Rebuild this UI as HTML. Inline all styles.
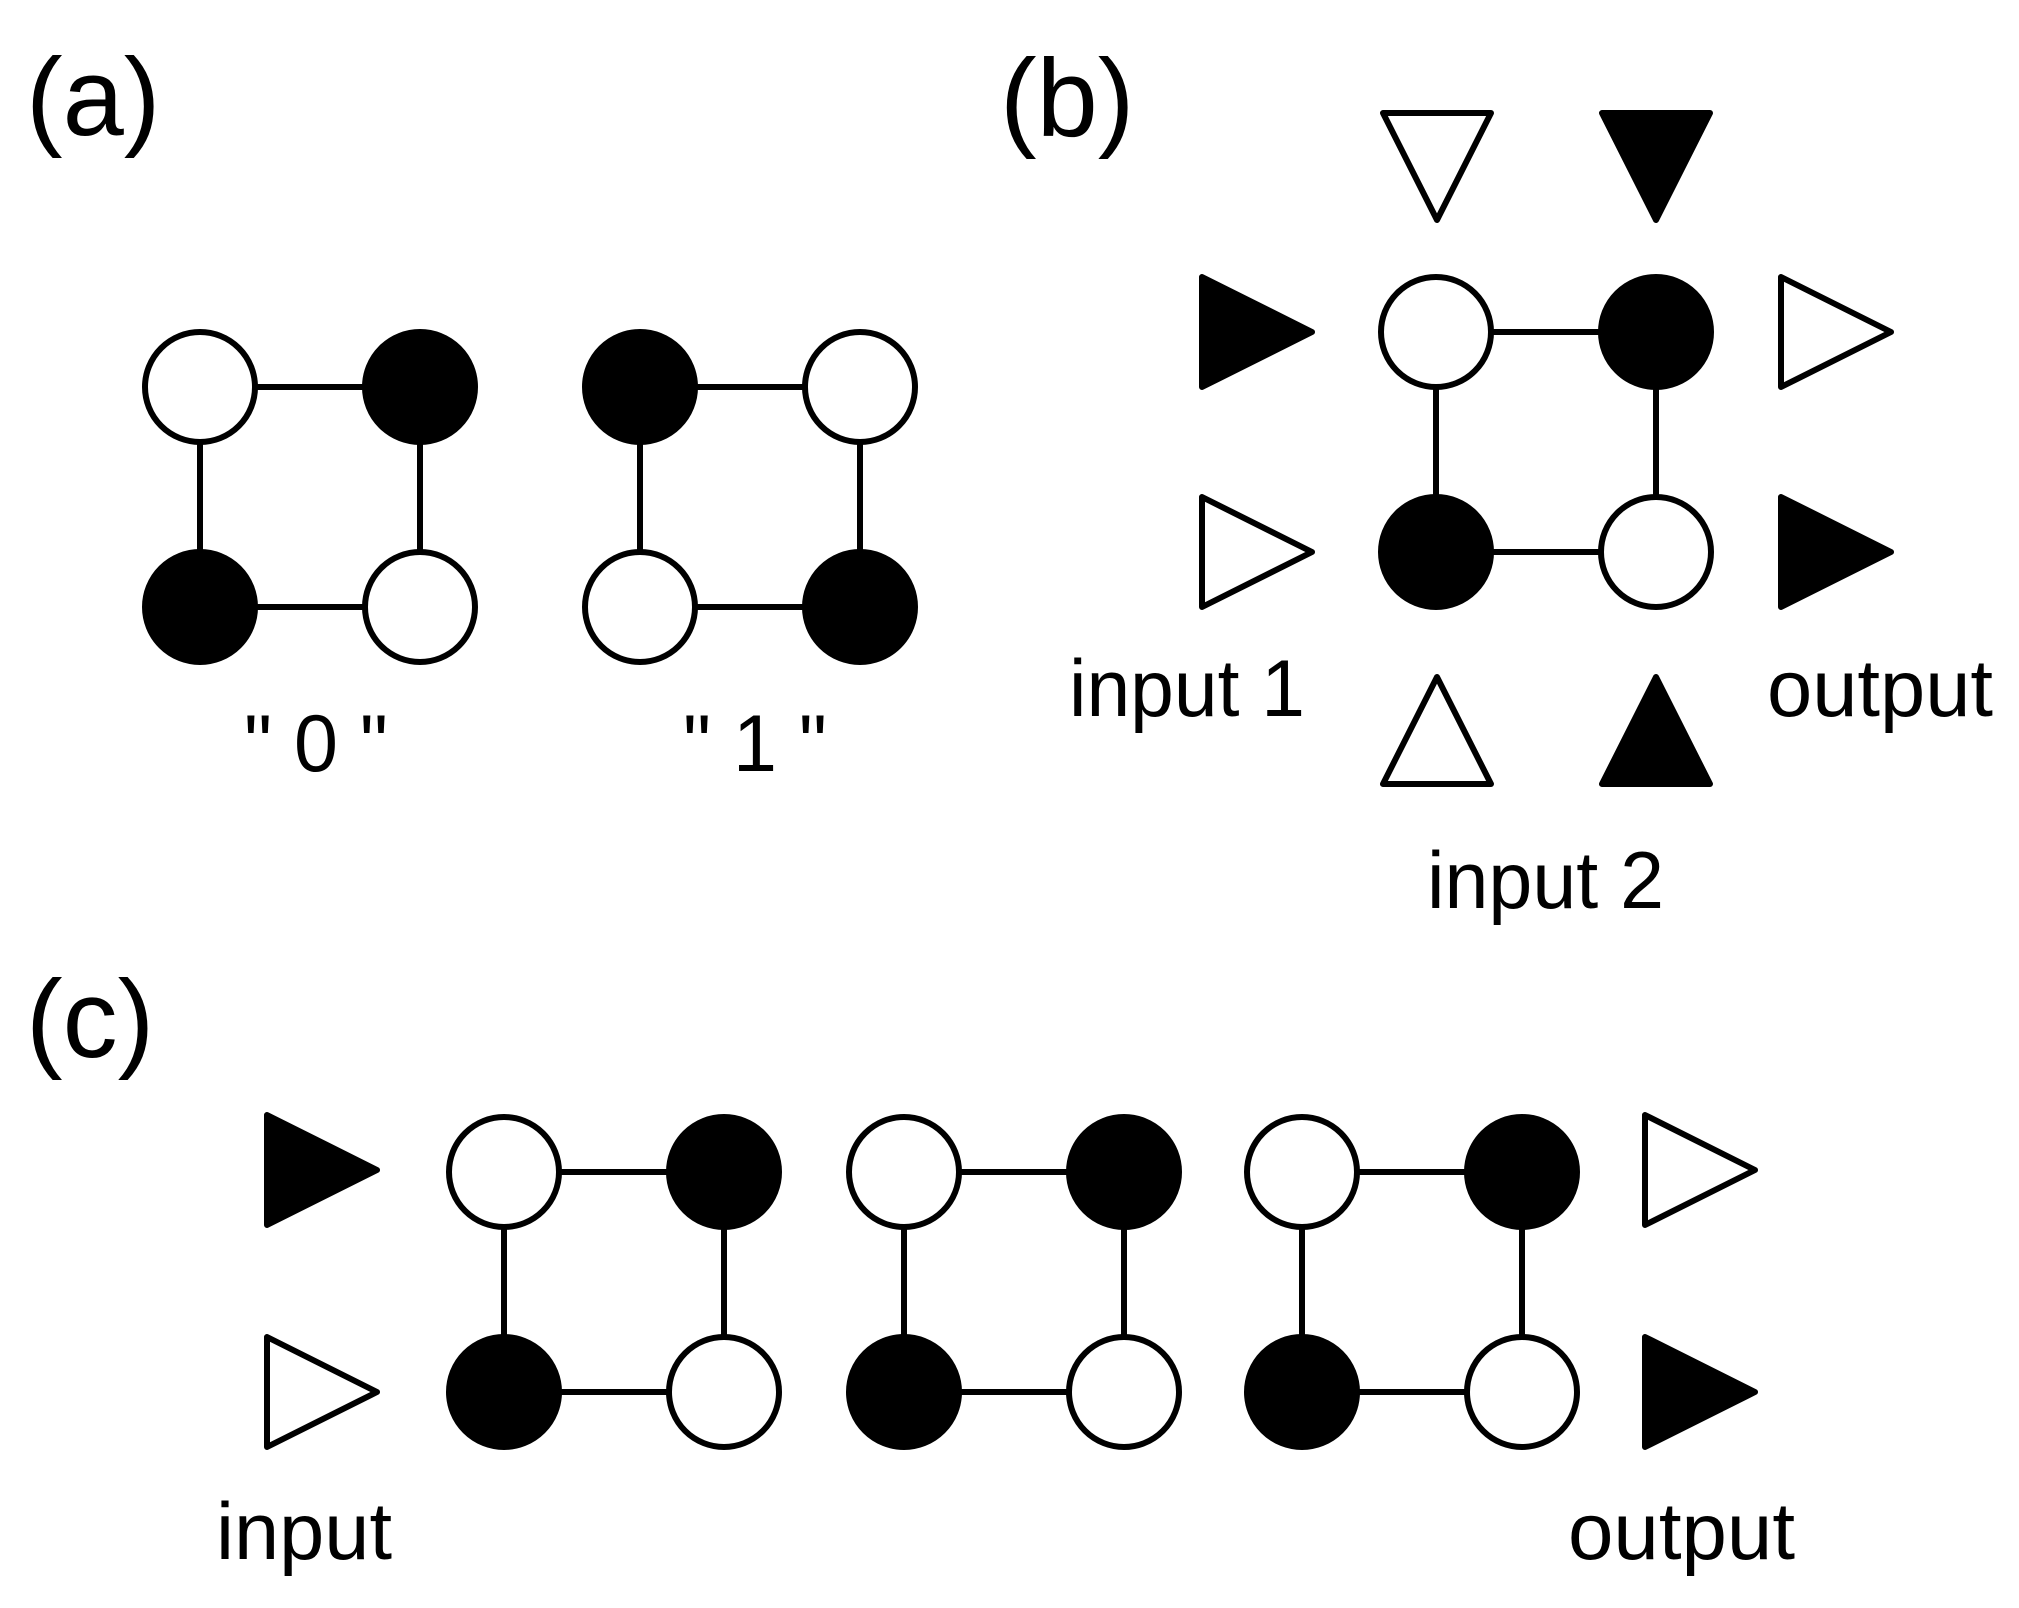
<!DOCTYPE html>
<html><head><meta charset="utf-8"><style>
html,body{margin:0;padding:0;background:#fff;}
svg{display:block;}
text{font-family:"Liberation Sans",Arial,sans-serif;fill:#000;}
</style></head><body>
<svg width="2019" height="1608" viewBox="0 0 2019 1608" xmlns="http://www.w3.org/2000/svg">
<g stroke="#000" stroke-width="6" stroke-linejoin="round">
<!-- (a) block 0 -->
<line x1="200" y1="387" x2="420" y2="387"/><line x1="200" y1="607" x2="420" y2="607"/>
<line x1="200" y1="387" x2="200" y2="607"/><line x1="420" y1="387" x2="420" y2="607"/>
<circle cx="200" cy="387" r="55" fill="#fff"/><circle cx="420" cy="387" r="55" fill="#000"/>
<circle cx="200" cy="607" r="55" fill="#000"/><circle cx="420" cy="607" r="55" fill="#fff"/>
<!-- (a) block 1 -->
<line x1="640" y1="387" x2="860" y2="387"/><line x1="640" y1="607" x2="860" y2="607"/>
<line x1="640" y1="387" x2="640" y2="607"/><line x1="860" y1="387" x2="860" y2="607"/>
<circle cx="640" cy="387" r="55" fill="#000"/><circle cx="860" cy="387" r="55" fill="#fff"/>
<circle cx="640" cy="607" r="55" fill="#fff"/><circle cx="860" cy="607" r="55" fill="#000"/>
<!-- (b) -->
<line x1="1436" y1="332" x2="1656" y2="332"/><line x1="1436" y1="552" x2="1656" y2="552"/>
<line x1="1436" y1="332" x2="1436" y2="552"/><line x1="1656" y1="332" x2="1656" y2="552"/>
<circle cx="1436" cy="332" r="55" fill="#fff"/><circle cx="1656" cy="332" r="55" fill="#000"/>
<circle cx="1436" cy="552" r="55" fill="#000"/><circle cx="1656" cy="552" r="55" fill="#fff"/>
<polygon points="1202,277 1202,387 1312,332" fill="#000"/>
<polygon points="1202,497 1202,607 1312,552" fill="#fff"/>
<polygon points="1781,277 1781,387 1891,332" fill="#fff"/>
<polygon points="1781,497 1781,607 1891,552" fill="#000"/>
<polygon points="1383,113 1491,113 1437,220" fill="#fff"/>
<polygon points="1602,113 1710,113 1656,220" fill="#000"/>
<polygon points="1383,784 1491,784 1437,677" fill="#fff"/>
<polygon points="1602,784 1710,784 1656,677" fill="#000"/>
<!-- (c) -->
<g>
<line x1="504" y1="1172" x2="724" y2="1172"/><line x1="504" y1="1392" x2="724" y2="1392"/>
<line x1="504" y1="1172" x2="504" y2="1392"/><line x1="724" y1="1172" x2="724" y2="1392"/>
<circle cx="504" cy="1172" r="55" fill="#fff"/><circle cx="724" cy="1172" r="55" fill="#000"/>
<circle cx="504" cy="1392" r="55" fill="#000"/><circle cx="724" cy="1392" r="55" fill="#fff"/>
<line x1="904" y1="1172" x2="1124" y2="1172"/><line x1="904" y1="1392" x2="1124" y2="1392"/>
<line x1="904" y1="1172" x2="904" y2="1392"/><line x1="1124" y1="1172" x2="1124" y2="1392"/>
<circle cx="904" cy="1172" r="55" fill="#fff"/><circle cx="1124" cy="1172" r="55" fill="#000"/>
<circle cx="904" cy="1392" r="55" fill="#000"/><circle cx="1124" cy="1392" r="55" fill="#fff"/>
<line x1="1302" y1="1172" x2="1522" y2="1172"/><line x1="1302" y1="1392" x2="1522" y2="1392"/>
<line x1="1302" y1="1172" x2="1302" y2="1392"/><line x1="1522" y1="1172" x2="1522" y2="1392"/>
<circle cx="1302" cy="1172" r="55" fill="#fff"/><circle cx="1522" cy="1172" r="55" fill="#000"/>
<circle cx="1302" cy="1392" r="55" fill="#000"/><circle cx="1522" cy="1392" r="55" fill="#fff"/>
</g>
<polygon points="267,1115 267,1225 377,1170" fill="#000"/>
<polygon points="267,1337 267,1447 377,1392" fill="#fff"/>
<polygon points="1645,1115 1645,1225 1755,1170" fill="#fff"/>
<polygon points="1645,1337 1645,1447 1755,1392" fill="#000"/>
</g>
<text x="26" y="135" font-size="110">(a)</text>
<text x="1000" y="136" font-size="110">(b)</text>
<text x="26" y="1057" font-size="110">(c)</text>
<text x="244" y="771" font-size="81" textLength="144" lengthAdjust="spacingAndGlyphs">" 0 "</text>
<text x="683" y="771" font-size="81" textLength="144" lengthAdjust="spacingAndGlyphs">" 1 "</text>
<text x="1069" y="716" font-size="81" textLength="236" lengthAdjust="spacingAndGlyphs">input 1</text>
<text x="1767" y="716" font-size="81" textLength="226" lengthAdjust="spacingAndGlyphs">output</text>
<text x="1427" y="908" font-size="81" textLength="237" lengthAdjust="spacingAndGlyphs">input 2</text>
<text x="216" y="1559" font-size="81" textLength="176" lengthAdjust="spacingAndGlyphs">input</text>
<text x="1568" y="1559" font-size="81" textLength="227" lengthAdjust="spacingAndGlyphs">output</text>
</svg>
</body></html>
